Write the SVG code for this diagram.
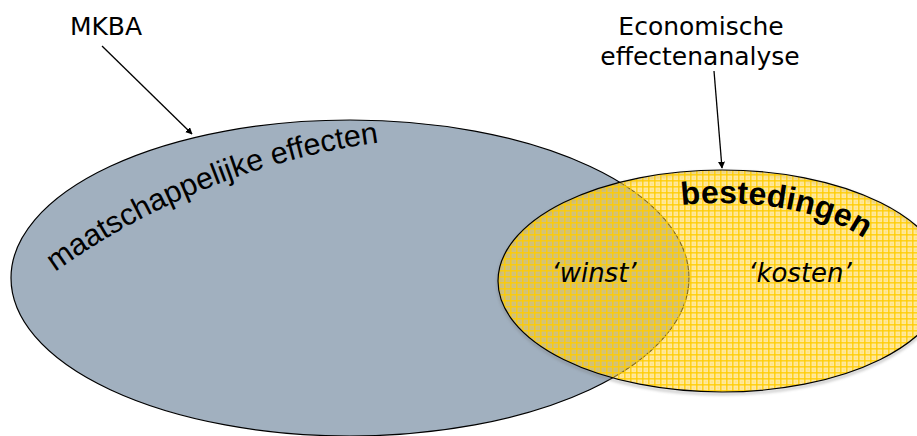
<svg xmlns="http://www.w3.org/2000/svg" width="917" height="436" viewBox="0 0 917 436">
  <style>
    .lbl { font-family: "DejaVu Sans", Verdana, sans-serif; font-size: 25px; fill: #000; }
    .ital { font-family: "DejaVu Sans", Verdana, sans-serif; font-size: 26px; font-style: italic; fill: #000; }
    .arch { font-family: "Liberation Sans", Arial, sans-serif; fill: #000; }
    .edge { stroke: #000; stroke-width: 1.2; }
    .conn { stroke: #000; stroke-width: 1.3; fill: none; marker-end: url(#arrow); }
  </style>
  <defs>
    <marker id="arrow" viewBox="0 0 10 10" refX="9" refY="5" markerWidth="7" markerHeight="7" markerUnits="userSpaceOnUse" orient="auto">
      <path d="M0,0 L10,5 L0,10 z" fill="#000"/>
    </marker>
    <!-- translucent yellow grid fill -->
    <pattern id="grid" width="6" height="6" patternUnits="userSpaceOnUse">
      <rect width="6" height="6" fill="#FFD23C" fill-opacity="0.5"/>
      <rect width="6" height="1.6" fill="#FFCC00" fill-opacity="0.8"/>
      <rect width="1.6" height="6" fill="#FFCC00" fill-opacity="0.8"/>
      <rect x="3.5" y="3.5" width="1" height="1" fill="#FFCC00" fill-opacity="0.5"/>
    </pattern>
    <filter id="soft" x="-10%" y="-10%" width="120%" height="130%">
      <feGaussianBlur stdDeviation="1.5"/>
    </filter>
    <path id="arcLeft" d="M55,272 A730 730 0 0 1 382,142"/>
    <path id="arcRight" d="M682,205.2 A169 78 0 0 1 891,281"/>
  </defs>

  <rect width="917" height="436" fill="#fff"/>

  <!-- societal effects set -->
  <g id="node-mkba">
    <ellipse cx="350" cy="278" rx="339" ry="158" fill="#A1B0BF" class="edge"/>
    <text class="arch" font-size="30.5"><textPath href="#arcLeft">maatschappelijke effecten</textPath></text>
  </g>

  <!-- spending set -->
  <g id="node-eea">
    <ellipse cx="722" cy="283" rx="224" ry="111" fill="none" stroke="#777" stroke-width="2" opacity="0.5" filter="url(#soft)"/>
    <ellipse cx="722" cy="281" rx="224" ry="111" fill="url(#grid)" class="edge"/>
    <text class="arch" font-size="32" font-weight="bold"><textPath href="#arcRight">bestedingen</textPath></text>
    <text class="ital" x="594" y="282" text-anchor="middle">‘winst’</text>
    <text class="ital" x="800" y="282" text-anchor="middle">‘kosten’</text>
  </g>

  <g id="node-label-mkba">
    <text class="lbl" x="106" y="35" text-anchor="middle">MKBA</text>
  </g>

  <g id="node-label-eea">
    <text class="lbl" x="701" y="35" text-anchor="middle">Economische</text>
    <text class="lbl" x="700" y="65" text-anchor="middle">effectenanalyse</text>
  </g>

  <g id="connectors">
    <line class="conn" x1="102" y1="46" x2="192" y2="134"/>
    <line class="conn" x1="714" y1="71" x2="722" y2="168"/>
  </g>
</svg>
